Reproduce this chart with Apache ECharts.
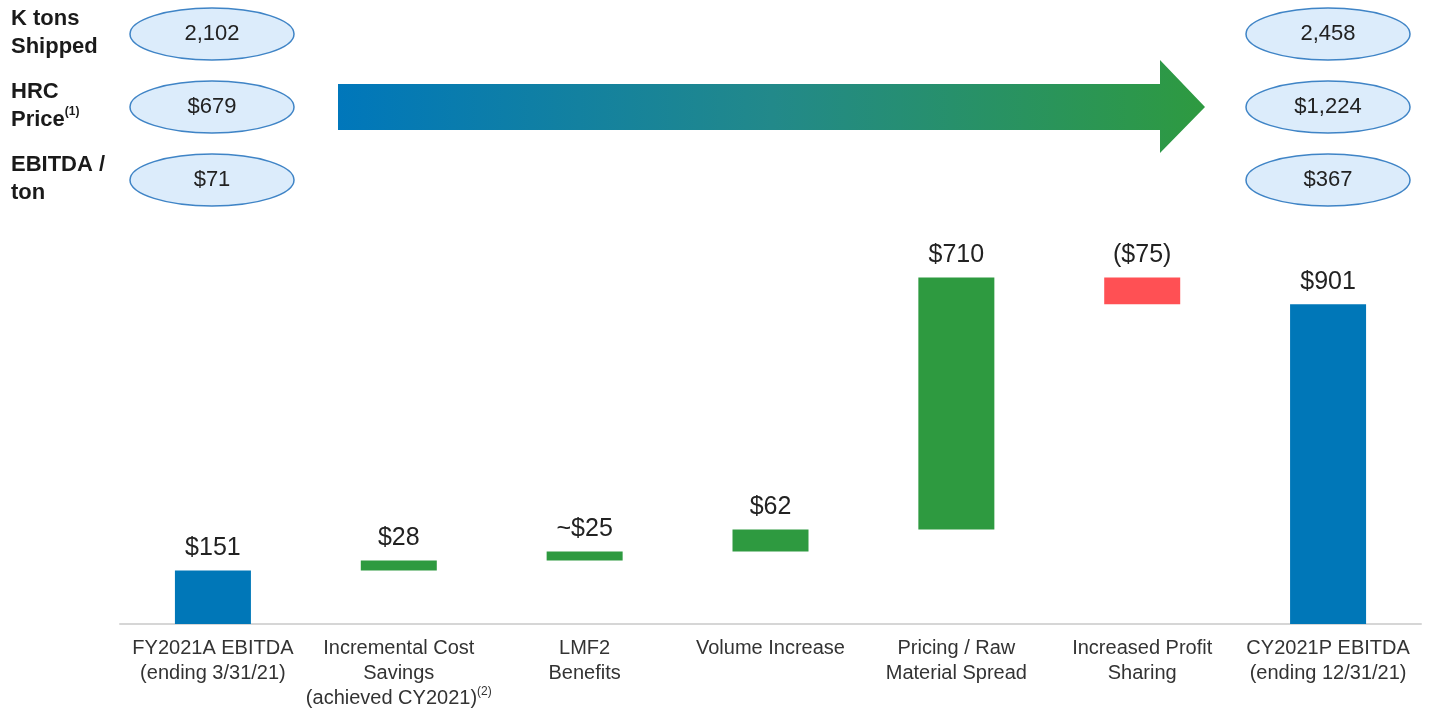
<!DOCTYPE html>
<html>
<head>
<meta charset="utf-8">
<style>
  html, body { margin: 0; padding: 0; background: #fff; }
  #chart { width: 1433px; height: 711px; }
</style>
<script src="https://cdn.jsdelivr.net/npm/echarts@6/dist/echarts.min.js"></script>
</head>
<body>
<div id="chart"></div>
<script>
// waterfall data ($M)
const categories = [
  'FY2021A EBITDA\n(ending 3/31/21)',
  'Incremental Cost\nSavings\n(achieved CY2021){sup|(2)}',
  'LMF2\nBenefits',
  'Volume Increase',
  'Pricing / Raw\nMaterial Spread',
  'Increased Profit\nSharing',
  'CY2021P EBITDA\n(ending 12/31/21)'
]
const values = [151, 28, 25, 62, 710, -75, 901]
const isTotal = [true, false, false, false, false, false, true]
const valueLabels = ['$151', '$28', '~$25', '$62', '$710', '($75)', '$901']

// ellipse boxes at top
const metricNames = ['K tons\nShipped', 'HRC\n{b|Price}{sup|(1)}', 'EBITDA /\nton']
const startMetrics = ['2,102', '$679', '$71']
const endMetrics = ['2,458', '$1,224', '$367']

const BLUE = '#0077B8'
const GREEN = '#2E9A40'
const RED = '#FF5054'

const baseData = []
const barData = []
let running = 0
values.forEach((v, i) => {
  if (isTotal[i]) {
    baseData.push(0)
    barData.push({ value: v, itemStyle: { color: BLUE } })
    running = v
  } else if (v >= 0) {
    baseData.push(running)
    barData.push({ value: v, itemStyle: { color: GREEN } })
    running += v
  } else {
    running += v
    baseData.push(running)
    barData.push({ value: -v, itemStyle: { color: RED } })
  }
})

const chart = echarts.init(document.getElementById('chart'))

const graphics = []
const rowY = [34, 107, 180]
metricNames.forEach((name, i) => {
  graphics.push({
    type: 'text',
    left: 11,
    top: rowY[i] - 29,
    style: {
      text: name,
      fontFamily: 'Liberation Sans, Arial, sans-serif',
      fontSize: 22,
      fontWeight: 'bold',
      lineHeight: 28,
      fill: '#1a1a1a',
      rich: {
        b: { fontSize: 22, fontWeight: 'bold', fill: '#1a1a1a', lineHeight: 28 },
        sup: { fontSize: 12, fontWeight: 'bold', fill: '#1a1a1a', verticalAlign: 'top', lineHeight: 28 }
      }
    }
  })
  ;[[212, startMetrics[i]], [1328, endMetrics[i]]].forEach(([cx, txt]) => {
    graphics.push({
      type: 'ellipse',
      shape: { cx: cx, cy: rowY[i], rx: 82, ry: 26 },
      style: { fill: '#DCECFB', stroke: '#3F84C6', lineWidth: 1.5 }
    })
    graphics.push({
      type: 'text',
      x: cx,
      y: rowY[i],
      style: {
        text: txt,
        align: 'center',
        verticalAlign: 'middle',
        fontFamily: 'Liberation Sans, Arial, sans-serif',
        fontSize: 22,
        fill: '#222'
      }
    })
  })
})
graphics.push({
  type: 'polygon',
  shape: {
    points: [[338, 84], [1160, 84], [1160, 60], [1205, 107], [1160, 153], [1160, 130], [338, 130]]
  },
  style: {
    fill: new echarts.graphic.LinearGradient(0, 0, 1, 0, [
      { offset: 0, color: '#0077BB' },
      { offset: 0.5, color: '#22898A' },
      { offset: 1, color: '#2E9A40' }
    ])
  }
})

chart.setOption({
  animation: false,
  textStyle: { fontFamily: 'Liberation Sans, Arial, sans-serif' },
  grid: { left: 120, right: 12, top: 269, height: 355, containLabel: false, outerBoundsMode: 'none' },
  xAxis: {
    type: 'category',
    data: categories,
    axisLine: { lineStyle: { color: '#D6D6D6', width: 2 } },
    axisTick: { show: false },
    axisLabel: {
      interval: 0,
      margin: 12,
      fontSize: 20,
      lineHeight: 25,
      color: '#333',
      rich: {
        sup: { fontSize: 12, color: '#333', verticalAlign: 'top', lineHeight: 25, padding: [0, 0, 14, 0] }
      }
    }
  },
  yAxis: {
    type: 'value',
    min: 0,
    max: 1000,
    show: false,
    splitLine: { show: false }
  },
  series: [
    {
      type: 'bar',
      stack: 'wf',
      data: baseData,
      barWidth: 76,
      itemStyle: { color: 'transparent' },
      silent: true
    },
    {
      type: 'bar',
      stack: 'wf',
      data: barData,
      barWidth: 76,
      label: {
        show: true,
        position: 'top',
        distance: 10,
        fontSize: 25,
        color: '#222',
        formatter: p => valueLabels[p.dataIndex]
      }
    }
  ],
  graphic: graphics
})
</script>
</body>
</html>
